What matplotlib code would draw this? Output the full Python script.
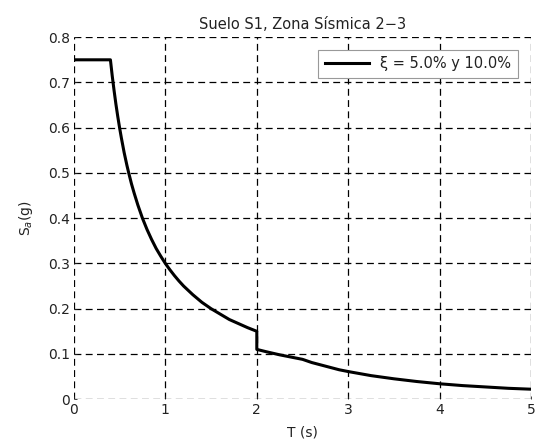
import matplotlib
matplotlib.use('Agg')
import matplotlib.pyplot as plt
import numpy as np

# periodo T (s) y aceleracion espectral Sa (g)
T = [0.0, 0.40, 0.41, 0.42, 0.44, 0.46, 0.48, 0.50, 0.52, 0.55, 0.58, 0.60,
     0.63, 0.66, 0.70, 0.75, 0.80, 0.85, 0.90, 0.95, 1.00, 1.05, 1.10, 1.15,
     1.20, 1.30, 1.40, 1.50, 1.60, 1.70, 1.80, 1.90, 2.00, 2.00, 2.10, 2.25,
     2.40, 2.50, 2.60, 2.75, 2.90, 3.00, 3.25, 3.50, 3.75, 4.00, 4.25, 4.50,
     4.75, 5.00]
Sa = [0.750, 0.750, 0.732, 0.714, 0.682, 0.652, 0.625, 0.600, 0.577, 0.545,
      0.517, 0.500, 0.476, 0.455, 0.429, 0.400, 0.375, 0.353, 0.333, 0.316,
      0.300, 0.286, 0.273, 0.261, 0.250, 0.231, 0.214, 0.200, 0.188, 0.176,
      0.167, 0.158, 0.150, 0.110, 0.105, 0.098, 0.092, 0.088, 0.081, 0.073,
      0.065, 0.061, 0.052, 0.045, 0.039, 0.034, 0.030, 0.027, 0.024, 0.022]

xticks = [0, 1, 2, 3, 4, 5]
yticks = [0, 0.1, 0.2, 0.3, 0.4, 0.5, 0.6, 0.7, 0.8]

plt.rcParams['font.family'] = ['DejaVu Sans']
plt.rcParams['font.size'] = 10
plt.rcParams['text.color'] = '#222222'

fig = plt.figure(figsize=(5.35, 4.48), dpi=100)
ax = fig.add_axes([0.138, 0.109, 0.855, 0.808])

ax.plot(T, Sa, color='black', linewidth=2.2, label='\u03be = 5.0% y 10.0%')

ax.set_xlim(0, 5)
ax.set_ylim(0, 0.8)
ax.set_xticks(xticks)
ax.set_yticks(yticks)
ax.set_xticklabels([str(t) for t in xticks])
ax.set_yticklabels(['0'] + ['%.1f' % v for v in yticks[1:]])
ax.tick_params(direction='in', length=2, width=0.6, colors='#222222', pad=3)

for s in ax.spines.values():
    s.set_visible(False)
ax.grid(True, color='black', linestyle=(0, (5.5, 3.5)), linewidth=0.9)

ax.set_xlabel('T (s)', labelpad=6, color='#222222')
ax.set_ylabel(r'S$_a$(g)', labelpad=9, color='#222222')
ax.set_title('Suelo S1, Zona Sísmica 2\u22123', fontsize=10.5, pad=6)

lgd = ax.legend(loc='upper right', fancybox=False, framealpha=1,
                edgecolor='#999999', handlelength=3.0, borderpad=0.45,
                fontsize=10.5, bbox_to_anchor=(0.987, 0.985))
lgd.get_frame().set_linewidth(0.8)

fig.savefig('out.png', dpi=100)
